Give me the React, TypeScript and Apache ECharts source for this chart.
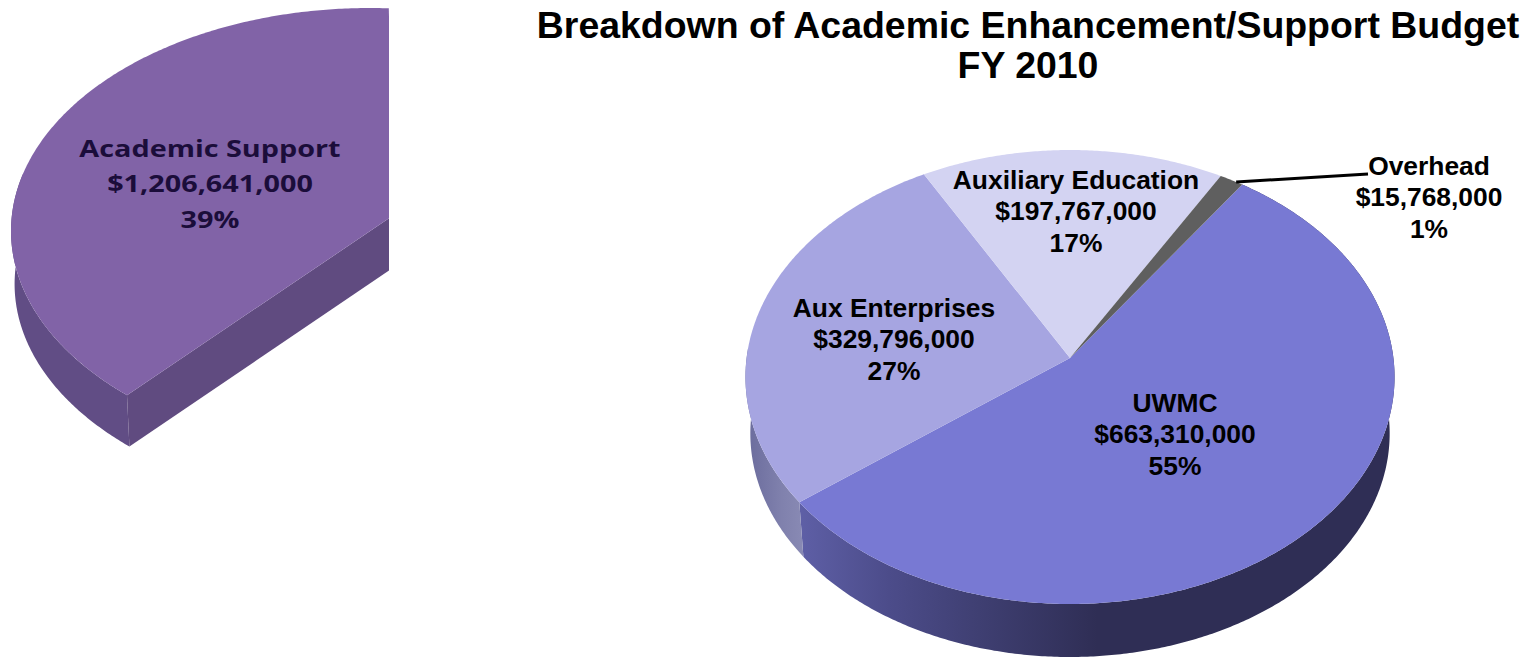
import React, { useEffect, useRef } from "react";
import * as echarts from "echarts";

const sliceNames = ["UWMC", "Aux Enterprises", "Auxiliary Education", "Overhead"];
const sliceAmounts = [663310000, 329796000, 197767000, 15768000];
const slicePercents = ["55%", "27%", "17%", "1%"];
const sliceColors = ["#7879d3", "#a6a5e1", "#d3d3f2", "#5f5f5f"];

const sideName = "Academic Support";
const sideAmount = 1206641000;
const sideShare = 39;

const titleLines = ["Breakdown of Academic Enhancement/Support Budget", "FY 2010"];

type Disc = {
  cx: number; cy: number; a: number; b: number; k: number;
  depth: number; shrink: number;
};

// Tilted pie planes: a circle seen in perspective, nearer edge larger.
const mainDisc: Disc = { cx: 1070, cy: 358, a: 323.4, b: 225.4, k: 0.0837, depth: 56.7, shrink: 0.985 };
const sideDisc: Disc = { cx: 370, cy: 231, a: 359, b: 223, k: 0, depth: 53, shrink: 0.99 };

// The side wedge narrows towards a point just past its clipped right edge.
const sideTip = [394, 215];
const sideTipDepth = 52;

const mainStart = -55.3;
const sideStart = 132.6;

const money = (v: number) => "$" + v.toLocaleString("en-US");

function rim(d: Disc, deg: number, lower = false): number[] {
  const t = (deg * Math.PI) / 180;
  const w = 1 - d.k * Math.sin(t);
  const x = (d.a * Math.cos(t)) / w;
  const y = (d.b * Math.sin(t)) / w;
  return lower
    ? [d.cx + x * d.shrink, d.cy + d.depth + y * d.shrink]
    : [d.cx + x, d.cy + y];
}

function arcPoints(d: Disc, from: number, to: number, lower = false): number[][] {
  const steps = Math.max(2, Math.ceil(Math.abs(to - from) * 2));
  const pts: number[][] = [];
  for (let i = 0; i <= steps; i++) pts.push(rim(d, from + ((to - from) * i) / steps, lower));
  return pts;
}

function horizontal(x0: number, x1: number, stops: [number, string][]) {
  return {
    type: "linear", x: x0, y: 0, x2: x1, y2: 0, global: true,
    colorStops: stops.map(([offset, color]) => ({ offset, color })),
  };
}

function sweeps(amounts: number[], start: number) {
  const total = amounts.reduce((s, v) => s + v, 0);
  let at = start;
  return amounts.map((v) => {
    const from = at;
    at += (v / total) * 360;
    return [from, at];
  });
}

function buildOption() {
  const spans = sweeps(sliceAmounts, mainStart);
  const [uFrom, uTo] = spans[0];
  const [eFrom] = spans[1];
  const sideTo = sideStart + (sideShare / 100) * 360;

  const walls = [
    {
      from: uFrom, to: uTo,
      fill: horizontal(800, 1395, [
        [0, "#5e5fa6"], [0.15, "#4c4c8a"], [0.3, "#3f3f72"], [0.5, "#2f2e55"], [1, "#2f2e55"],
      ]),
    },
    {
      from: eFrom, to: eFrom + 40,
      fill: horizontal(746, 806, [[0, "#6a6b9c"], [0.6, "#8081ad"], [1, "#8a8bb5"]]),
    },
  ];

  const renderWalls = (params: any) => {
    const w = walls[params.dataIndex];
    const pts = [...arcPoints(mainDisc, w.from, w.to), ...arcPoints(mainDisc, w.to, w.from, true)];
    return { type: "polygon", shape: { points: pts }, style: { fill: w.fill } };
  };

  const renderSlices = (params: any) => {
    const [from, to] = spans[params.dataIndex];
    const pts = [[mainDisc.cx, mainDisc.cy], ...arcPoints(mainDisc, from, to)];
    return { type: "polygon", shape: { points: pts }, style: { fill: sliceColors[params.dataIndex] } };
  };

  const renderSide = () => {
    const top = [sideTip, ...arcPoints(sideDisc, sideStart, sideTo)];
    const ridge = [rim(sideDisc, sideStart), rim(sideDisc, sideStart, true), [sideTip[0], sideTip[1] + sideTipDepth], sideTip];
    const outer = [...arcPoints(sideDisc, sideStart, 195), ...arcPoints(sideDisc, 195, sideStart, true)];
    return {
      type: "group",
      clipPath: { type: "rect", shape: { x: 0, y: 0, width: 389, height: 657 } },
      children: [
        { type: "polygon", shape: { points: outer }, style: { fill: "#614d85" } },
        { type: "polygon", shape: { points: ridge }, style: { fill: "#604b80" } },
        { type: "polygon", shape: { points: top }, style: { fill: "#8163a7" } },
      ],
    };
  };

  const renderLeader = () => {
    const [from, to] = spans[3];
    const start = rim(mainDisc, (from + to) / 2 + 1);
    return {
      type: "polyline",
      shape: { points: [start, [1368, 174]] },
      style: { stroke: "#000", lineWidth: 3, fill: "none" },
    };
  };

  const labelStyle = { fontFamily: "Liberation Sans", fontWeight: "bold", fontSize: 26.4, lineHeight: 31.5, fill: "#000", align: "center", verticalAlign: "middle" };
  const label = (i: number, x: number, y: number) => ({
    type: "text", x, y, z: 20,
    style: { ...labelStyle, text: `${sliceNames[i]}\n${money(sliceAmounts[i])}\n${slicePercents[i]}` },
  });

  return {
    animation: false,
    backgroundColor: "#fff",
    series: [
      { type: "custom", coordinateSystem: "none", z: 1, silent: true, renderItem: renderWalls, data: walls.map((_, i) => i) },
      { type: "custom", coordinateSystem: "none", z: 2, silent: true, renderItem: renderSlices, data: sliceAmounts },
      { type: "custom", coordinateSystem: "none", z: 2, silent: true, renderItem: renderSide, data: [sideAmount] },
      { type: "custom", coordinateSystem: "none", z: 3, silent: true, renderItem: renderLeader, data: [0] },
    ],
    graphic: [
      {
        type: "text", x: 1028, y: 46, z: 20, scaleX: 1.04,
        style: {
          text: titleLines.join("\n"), fontFamily: "Liberation Sans", fontWeight: "bold",
          fontSize: 36, lineHeight: 40, fill: "#000", align: "center", verticalAlign: "middle",
        },
      },
      label(0, 1175, 434),
      label(1, 894, 339),
      label(2, 1076, 211),
      label(3, 1429, 197),
      {
        type: "text", x: 210, y: 183, z: 20, scaleX: 1.2,
        style: {
          text: `${sideName}\n${money(sideAmount)}\n${sideShare}%`, fontFamily: "Open Sans", fontWeight: "bold",
          fontSize: 24, lineHeight: 35.5, fill: "#1b0d3a", align: "center", verticalAlign: "middle",
        },
      },
    ],
  };
}

export default function App() {
  const ref = useRef<HTMLDivElement>(null);
  useEffect(() => {
    const chart = echarts.init(ref.current!, undefined, { renderer: "svg" });
    chart.setOption(buildOption() as any);
    return () => chart.dispose();
  }, []);
  return <div ref={ref} style={{ position: "fixed", left: 0, top: 0, width: 1523, height: 657 }} />;
}
